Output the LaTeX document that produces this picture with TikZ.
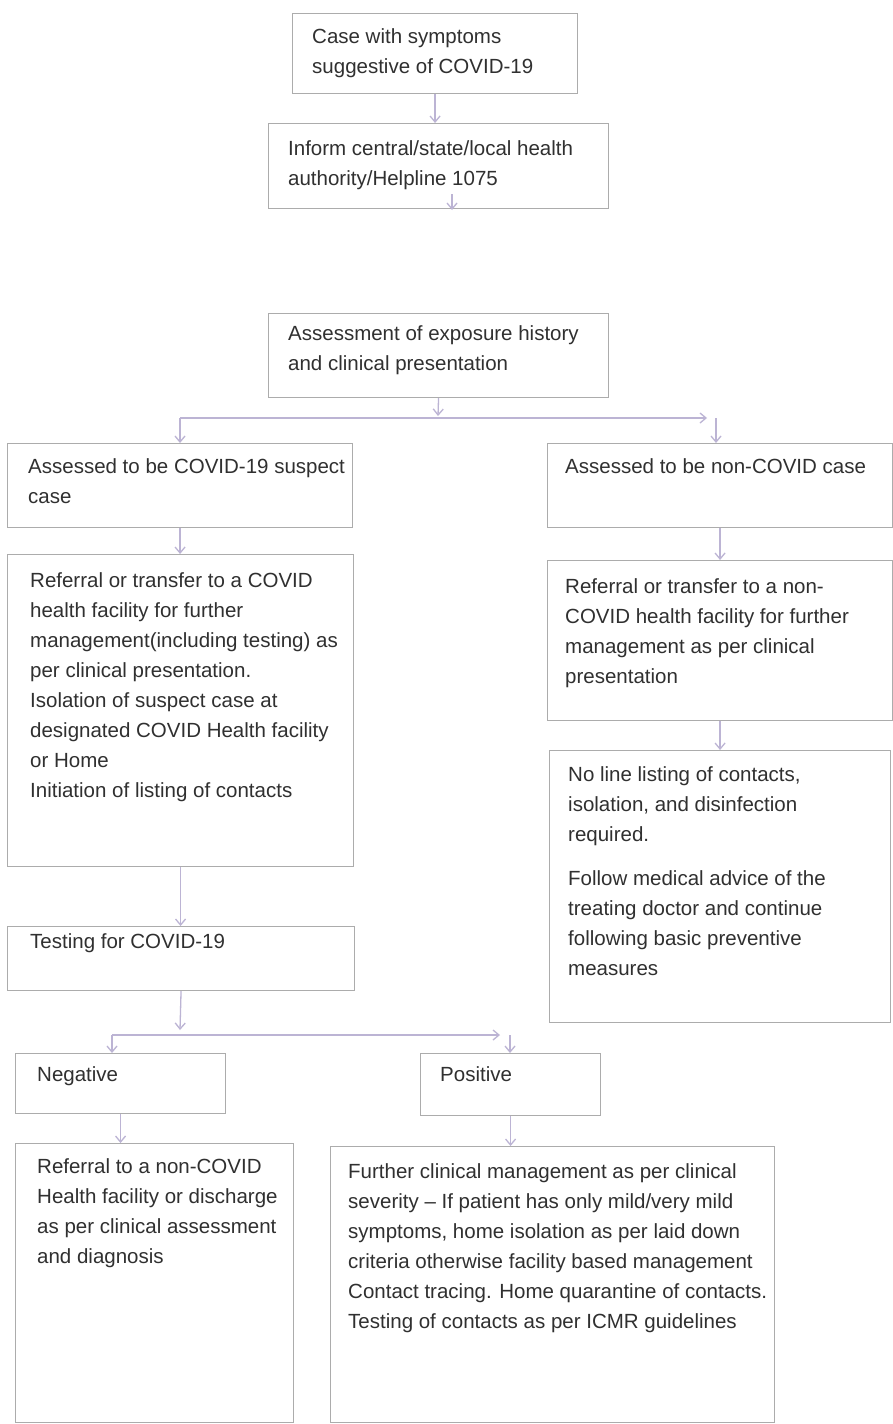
\documentclass[tikz,border=0pt]{standalone}
\usepackage{fontspec}
\setmainfont{Liberation Sans}
\usetikzlibrary{arrows.meta}
\definecolor{boxgray}{RGB}{172,172,172}
\definecolor{arrowlav}{RGB}{188,180,212}
\definecolor{txtgray}{RGB}{48,48,48}
\tikzset{
  fbox/.style={draw=boxgray, line width=1.1pt, inner sep=0pt, anchor=north west},
  ftext/.style={anchor=north west, inner sep=0pt, align=left, text=txtgray,
    font=\fontsize{20.5}{30}\selectfont},
  arr/.style={draw=arrowlav, line width=1.3pt, -{Straight Barb[length=6pt,width=10pt]}},
}
\begin{document}
\begin{tikzpicture}[x=1pt,y=-1pt]
\useasboundingbox[fill=white] (0,0) rectangle (893,1424);

% boxes
\node[fbox, minimum width=285pt, minimum height=80pt] (b1) at (292,13) {};
\node[fbox, minimum width=340pt, minimum height=85pt] (b2) at (268,123) {};
\node[fbox, minimum width=340pt, minimum height=84pt] (b3) at (268,313) {};
\node[fbox, minimum width=345pt, minimum height=84pt] (sus) at (7,443) {};
\node[fbox, minimum width=345pt, minimum height=84pt] (nonc) at (547,443) {};
\node[fbox, minimum width=346pt, minimum height=312pt] (refc) at (7,554) {};
\node[fbox, minimum width=345pt, minimum height=160pt] (refn) at (547,560) {};
\node[fbox, minimum width=341pt, minimum height=272pt] (nol) at (549,750) {};
\node[fbox, minimum width=347pt, minimum height=64pt] (test) at (7,926) {};
\node[fbox, minimum width=210pt, minimum height=60pt] (neg) at (15,1053) {};
\node[fbox, minimum width=180pt, minimum height=62pt] (pos) at (420,1053) {};
\node[fbox, minimum width=278pt, minimum height=279pt] (bl) at (15,1143) {};
\node[fbox, minimum width=444pt, minimum height=276pt] (fur) at (330,1146) {};

% texts
\node[ftext] (b1t) at (312,28) {Case with symptoms\\suggestive of COVID-19};
\node[ftext] (b2t) at (288,140) {Inform central/state/local health\\authority/Helpline 1075};
\node[ftext] (b3t) at (288,325) {Assessment of exposure history\\and clinical presentation};
\node[ftext] (sust) at (28,458) {Assessed to be COVID-19 suspect\\case};
\node[ftext] (nonct) at (565,458) {Assessed to be non-COVID case};
\node[ftext] (refct) at (30,572) {Referral or transfer to a COVID\\health facility for further\\management(including testing) as\\per clinical presentation.\\Isolation of suspect case at\\designated COVID Health facility\\or Home\\Initiation of listing of contacts};
\node[ftext] (refnt) at (565,578) {Referral or transfer to a non-\\COVID health facility for further\\management as per clinical\\presentation};
\node[ftext] (nolt) at (568,766) {No line listing of contacts,\\isolation, and disinfection\\required.\\[14pt]Follow medical advice of the\\treating doctor and continue\\following basic preventive\\measures};
\node[ftext] (testt) at (30,933) {Testing for COVID-19};
\node[ftext] (negt) at (37,1066) {Negative};
\node[ftext] (post) at (440,1066) {Positive};
\node[ftext] (blt) at (37,1158) {Referral to a non-COVID\\Health facility or discharge\\as per clinical assessment\\and diagnosis};
\node[ftext] (furt) at (348,1163) {Further clinical management as per clinical\\severity -- If patient has only mild/very mild\\symptoms, home isolation as per laid down\\criteria otherwise facility based management\\Contact tracing. Home quarantine of contacts.\\Testing of contacts as per ICMR guidelines};

% connectors
\draw[arr] (b1.south) -- (b1.south |- b2.north);
\coordinate (d1) at (452,194);
\coordinate (d2) at (452,210);
\draw[arr] (d1) -- (d2);

\coordinate (j1) at (438,416);
\coordinate (hl) at (180,418);
\coordinate (hr) at (707,418);
\coordinate (hr2) at (716,418);
\draw[arr] (b3.south) -- (j1);
\draw[arr] (hl) -- (hr);
\draw[arr] (hl) -- (hl |- sus.north);
\draw[arr] (hr2) -- (hr2 |- nonc.north);

\draw[arr] (sus.south) -- (sus.south |- refc.north);
\draw[arr] (nonc.south) -- (nonc.south |- refn.north);
\draw[arr] (refn.south) -- (refn.south |- nol.north);
\draw[arr] (refc.south) -- (refc.south |- test.north);

\coordinate (j2) at (180,1030);
\coordinate (gl) at (112,1035);
\coordinate (gr) at (500,1035);
\coordinate (gr2) at (510,1035);
\draw[arr] (test.south) -- (j2);
\draw[arr] (gl) -- (gr);
\draw[arr] (gl) -- (gl |- neg.north);
\draw[arr] (gr2) -- (gr2 |- pos.north);
\draw[arr] (neg.south) -- (neg.south |- bl.north);
\draw[arr] (pos.south) -- (pos.south |- fur.north);
\end{tikzpicture}
\end{document}
